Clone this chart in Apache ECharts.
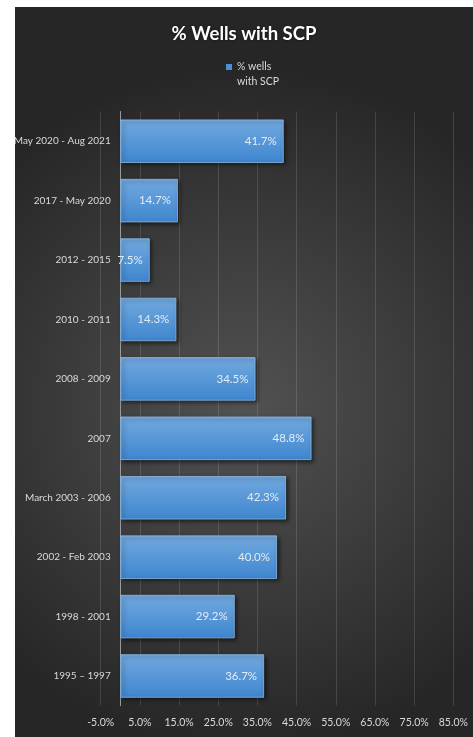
<!DOCTYPE html>
<html>
<head>
<meta charset="utf-8">
<script src="https://cdn.jsdelivr.net/npm/echarts@6/dist/echarts.min.js"></script>
<style>
  html, body { margin: 0; padding: 0; background: #ffffff; }
  #chart { position: absolute; left: 15px; top: 7px; width: 458px; height: 730px; }
</style>
</head>
<body>
<div id="chart"></div>
<script>
// Periods, top to bottom
const categories = [
  'May 2020 - Aug 2021',
  '2017 - May 2020',
  '2012 - 2015',
  '2010 - 2011',
  '2008 - 2009',
  '2007',
  'March 2003 - 2006',
  '2002 - Feb 2003',
  '1998 - 2001',
  '1995 – 1997'
];
// Share of wells with sustained casing pressure (%)
const wellsWithScp = [41.7, 14.7, 7.5, 14.3, 34.5, 48.8, 42.3, 40.0, 29.2, 36.7];
// Value-axis ticks (%)
const xTicks = [-5, 5, 15, 25, 35, 45, 55, 65, 75, 85];

const seriesName = '% wells with SCP';
const labelFont = "Lato, 'Open Sans', sans-serif";

const chart = echarts.init(document.getElementById('chart'));
chart.setOption({
  backgroundColor: {
    type: 'radial', x: 0.5, y: 0.55, r: 0.75,
    colorStops: [
      { offset: 0, color: '#525252' },
      { offset: 1, color: '#262626' }
    ]
  },
  title: {
    text: '% Wells with SCP',
    left: 'center',
    top: 13,
    textStyle: {
      color: '#ffffff',
      fontFamily: labelFont,
      fontWeight: 'bold',
      fontSize: 18.5,
      textShadowColor: 'rgba(0,0,0,0.6)',
      textShadowBlur: 3
    }
  },
  legend: {
    data: [seriesName],
    left: 211,
    top: 37.5,
    padding: 0,
    itemWidth: 6,
    itemHeight: 6,
    itemStyle: { borderWidth: 0, shadowBlur: 0, color: '#4a90d9' },
    icon: 'rect',
    // first line sits beside the marker, second wraps below it
    formatter: () => '\n% wells\nwith SCP',
    textStyle: {
      color: '#d9d9d9',
      fontFamily: labelFont,
      fontSize: 10.5,
      lineHeight: 15
    }
  },
  grid: { left: 85.7, right: 19.7, top: 104.5, bottom: 31.3, containLabel: false, outerBoundsMode: 'none' },
  xAxis: {
    type: 'value',
    min: xTicks[0],
    max: xTicks[xTicks.length - 1],
    interval: xTicks[1] - xTicks[0],
    axisLine: { show: false },
    axisTick: { show: false },
    axisLabel: {
      color: '#d9d9d9',
      fontFamily: labelFont,
      fontSize: 10.5,
      margin: 11,
      formatter: v => v.toFixed(1) + '%'
    },
    splitLine: { show: true, lineStyle: { color: 'rgba(255,255,255,0.13)', width: 1 } }
  },
  yAxis: {
    type: 'category',
    data: categories,
    inverse: true,
    axisLine: { show: true, lineStyle: { color: '#9a9a9a', width: 1 } },
    axisTick: { show: false },
    axisLabel: {
      color: '#d9d9d9',
      fontFamily: labelFont,
      fontSize: 10,
      margin: -10
    }
  },
  series: [{
    name: seriesName,
    type: 'bar',
    data: wellsWithScp,
    barCategoryGap: '27%',
    itemStyle: {
      color: {
        type: 'linear', x: 0, y: 0, x2: 0, y2: 1,
        colorStops: [
          { offset: 0, color: '#72a9df' },
          { offset: 1, color: '#3e86cf' }
        ]
      },
      borderColor: '#8dbbe8',
      borderWidth: 0.8,
      shadowColor: 'rgba(0,0,0,0.55)',
      shadowBlur: 4,
      shadowOffsetX: 2,
      shadowOffsetY: 2
    },
    label: {
      show: true,
      position: 'insideRight',
      distance: 7,
      color: '#e3ebf5',
      fontFamily: labelFont,
      fontSize: 11.5,
      formatter: p => p.value.toFixed(1) + '%'
    }
  }]
});
</script>
</body>
</html>
